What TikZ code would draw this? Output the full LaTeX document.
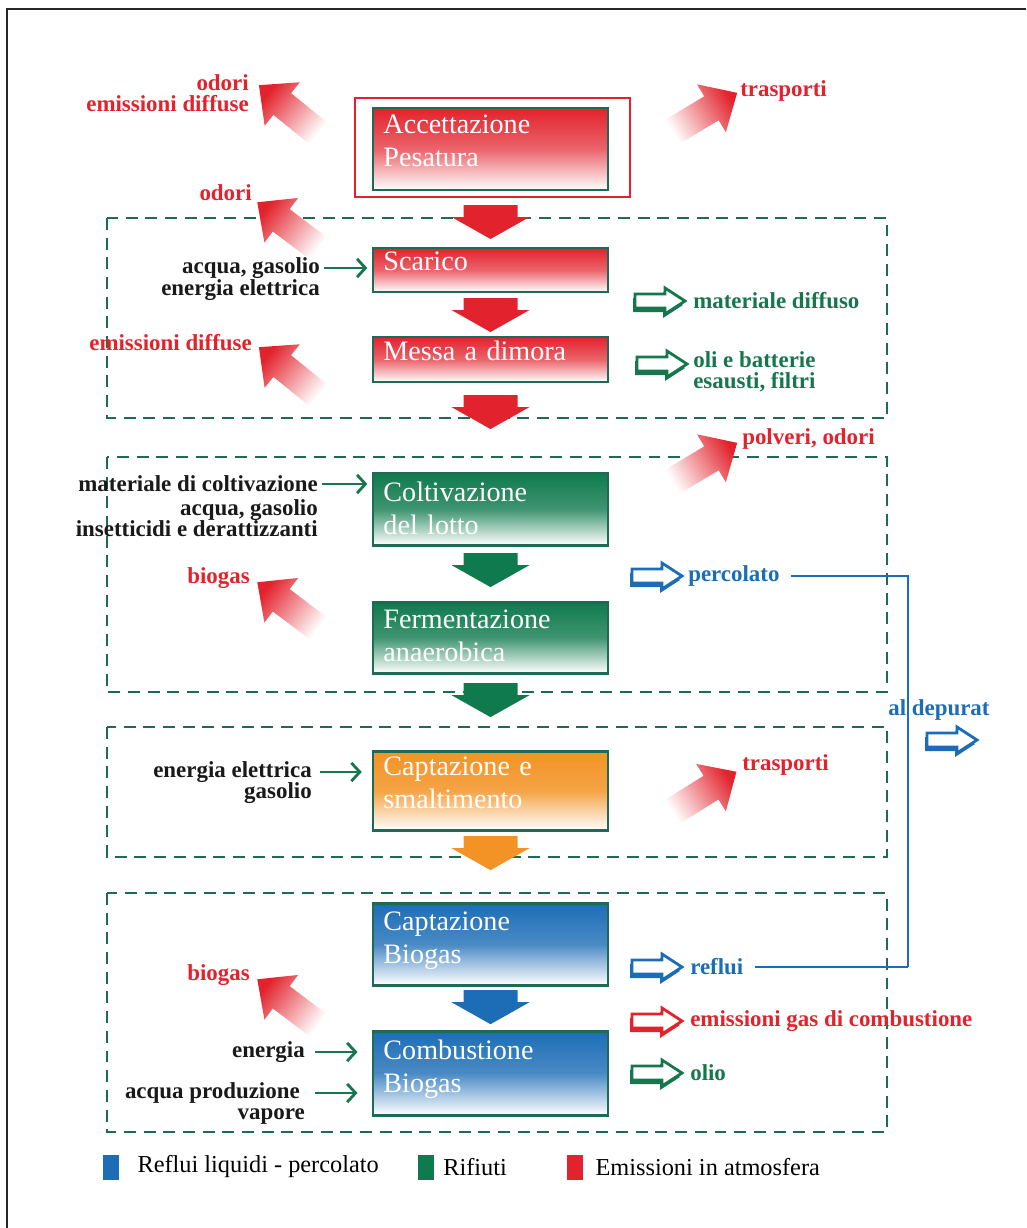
\documentclass[tikz,border=0pt]{standalone}
\usepackage{fontspec}
\setmainfont{Liberation Serif}
\usetikzlibrary{positioning,arrows.meta}
\definecolor{emred}{HTML}{E2222C}
\definecolor{wastegreen}{HTML}{0F7A4D}
\definecolor{liquidblue}{HTML}{1C6DB6}
\definecolor{gasorange}{HTML}{F39325}
\definecolor{zoneteal}{HTML}{1F6A56}
\definecolor{inkgreen}{HTML}{16774E}
\begin{document}
\begin{tikzpicture}[x=0.025cm,y=-0.025cm,
  stage/.style={draw=zoneteal,line width=2pt,minimum width=5.875cm,text width=5.35cm,
    inner xsep=0.25cm,inner ysep=0pt,outer sep=0pt,align=left,text=white,
    font=\fontsize{20}{23.5}\selectfont,text depth=#1},
  red stage/.style={stage=#1,top color=emred,bottom color=white,middle color=emred!70!white},
  green stage/.style={stage=#1,top color=wastegreen,bottom color=white,middle color=wastegreen!80!white},
  orange stage/.style={stage=#1,top color=gasorange,bottom color=white,middle color=gasorange!85!white},
  blue stage/.style={stage=#1,top color=liquidblue,bottom color=white,middle color=liquidblue!80!white},
  zone/.style={draw=zoneteal,line width=2pt,dash pattern=on 8.5pt off 5.5pt},
  tag/.style={font=\fontsize{16.3}{15}\selectfont\bfseries,inner sep=0pt},
  input/.style={tag,text=black!90,anchor=east,align=right},
  output/.style={tag,anchor=west,align=left},
  emission/.style={tag,text=emred},
  feed/.style={draw=inkgreen,line width=2pt,shorten <=3pt,shorten >=4pt,
    -{Straight Barb[length=6pt,width=13pt]}},
  drain/.style={draw=liquidblue,line width=1.4pt},
  key/.style={minimum width=0.4cm,minimum height=0.625cm,inner sep=0pt},
  key text/.style={font=\fontsize{17.3}{17}\selectfont,inner sep=0pt,anchor=west},
  pics/flow/.style={code={\fill[#1] (-27,0) -- (27,0) -- (27,12) -- (39,12) -- (0,34)
    -- (-39,12) -- (-27,12) -- cycle;}},
  pics/fume/.style={code={\shade[top color=emred,bottom color=white,shading angle=#1]
    (0,-14) -- (46,-14) -- (46,-28) -- (76,0) -- (46,28) -- (46,14) -- (0,14) -- cycle;}},
  pics/spill/.style={code={
    \fill[#1,shift={(-2,4)}] (-25,-7) -- (5,-7) -- (5,-13) -- (25,0) -- (5,13) -- (5,7) -- (-25,7) -- cycle;
    \filldraw[draw=#1,fill=white,line width=2pt] (-25,-7) -- (5,-7) -- (5,-13) -- (25,0) -- (5,13)
      -- (5,7) -- (-25,7) -- cycle;}}]

  \useasboundingbox (0,0) rectangle (1026,1228);
  \draw[line width=1.4pt,black!85] (7,1228) -- (7,9) -- (1026,9);

  \draw[zone] (107,218) rectangle (887,418);
  \draw[zone] (107,457) rectangle (887,692);
  \draw[zone] (107,727) rectangle (887,857);
  \draw[zone] (107,893) rectangle (887,1132);

  \node[red stage=35pt,minimum height=2.05cm] (acc) at (490.5,149) {Accettazione\\Pesatura};
  \node[red stage=13pt,minimum height=1.1cm,below=1.45cm of acc] (scar) {Scarico};
  \node[red stage=13pt,minimum height=1.125cm,below=1.125cm of scar] (mess) {Messa a dimora};
  \node[green stage=25pt,minimum height=1.8cm,below=2.275cm of mess] (colt) {Coltivazione\\del lotto};
  \node[green stage=25.8pt,minimum height=1.775cm,below=1.425cm of colt] (ferm) {Fermentazione\\anaerobica};
  \node[orange stage=34.3pt,minimum height=1.975cm,below=1.95cm of ferm] (capt) {Captazione e\\smaltimento};
  \node[blue stage=32.2pt,minimum height=2.05cm,below=1.825cm of capt] (capb) {Captazione\\Biogas};
  \node[blue stage=33.6pt,minimum height=2.1cm,below=1.15cm of capb] (comb) {Combustione\\Biogas};

  \draw[emred,line width=1.5pt] ([xshift=-0.45cm,yshift=0.25cm]acc.north west)
    rectangle ([xshift=0.55cm,yshift=-0.175cm]acc.south east);

  \pic at ([yshift=-0.375cm]acc.south) {flow=emred};
  \pic at ([yshift=-0.15cm]scar.south) {flow=emred};
  \pic at ([yshift=-0.325cm]mess.south) {flow=emred};
  \pic at ([yshift=-0.2cm]colt.south) {flow=wastegreen};
  \pic at ([yshift=-0.25cm]ferm.south) {flow=wastegreen};
  \pic at ([yshift=-0.15cm]capt.south) {flow=gasorange};
  \pic at ([yshift=-0.125cm]capb.south) {flow=liquidblue};

  \pic[rotate=141] at (318,133) {fume=51};
  \pic[rotate=31] at (672,132) {fume=-59};
  \pic[rotate=143] at (318,248) {fume=53};
  \pic[rotate=141] at (318,395) {fume=51};
  \pic[rotate=31] at (672,482) {fume=-59};
  \pic[rotate=143] at (318,628) {fume=53};
  \pic[rotate=32] at (672,812) {fume=-58};
  \pic[rotate=143] at (318,1025) {fume=53};

  \node[emission,anchor=east,align=right] (em1) at (249,93) {odori\\emissioni diffuse};
  \node[emission,anchor=west] (em2) at (740,91) {trasporti};
  \node[emission,anchor=east] (em3) at (252,193) {odori};
  \node[emission,anchor=east] (em4) at (252,343) {emissioni diffuse};
  \node[emission,anchor=west] (em5) at (742,439) {polveri, odori};
  \node[emission,anchor=east] (em6) at (250,578) {biogas};
  \node[emission,anchor=west] (em7) at (742,765) {trasporti};
  \node[emission,anchor=east] (em8) at (250,975) {biogas};

  \node[input] (in1a) at (320,268) {acqua, gasolio};
  \node[input] (in1b) at (320,290) {energia elettrica};
  \node[input] (in2a) at (318,484) {materiale di coltivazione};
  \node[input,anchor=north east] (in2b) at (318,499) {acqua, gasolio\\insetticidi e derattizzanti};
  \node[input] (in3a) at (312,772) {energia elettrica};
  \node[input] (in3b) at (312,793) {gasolio};
  \node[input] (in4) at (305,1052) {energia};
  \node[input] (in5a) at (300,1093) {acqua produzione};
  \node[input] (in5b) at (305,1116) {vapore};

  \draw[feed] (in1a) -- (scar.west |- in1a);
  \draw[feed] (in2a) -- (colt.west |- in2a);
  \draw[feed,shorten <=6pt,shorten >=8pt] (in3a) -- (capt.west |- in3a);
  \draw[feed,shorten <=7pt,shorten >=11pt] (in4) -- (comb.west |- in4);
  \draw[feed,shorten <=11pt,shorten >=11pt] (in5a) -- (comb.west |- in5a);

  \pic at (660,301) {spill=inkgreen};
  \pic at (662,364) {spill=inkgreen};
  \pic at (657,576) {spill=liquidblue};
  \pic at (952,740) {spill=liquidblue};
  \pic at (657,967) {spill=liquidblue};
  \pic at (657,1021) {spill=emred};
  \pic at (657,1073) {spill=inkgreen};

  \node[output,text=inkgreen] (diff) at (693,301) {materiale diffuso};
  \node[output,text=inkgreen] (oli) at (693,372) {oli e batterie\\esausti, filtri};
  \node[output,text=liquidblue] (perc) at (688,576) {percolato};
  \node[output,text=liquidblue] (dep) at (888,710) {al depurat};
  \node[output,text=liquidblue] (refl) at (690,967) {reflui};
  \node[output,text=emred] (gas) at (690,1021) {emissioni gas di combustione};
  \node[output,text=inkgreen] (olio) at (690,1073) {olio};

  \coordinate (bend) at (908,700);
  \draw[drain,shorten <=8pt] (perc.east) -- (perc.east -| bend) -- (refl.east -| bend);
  \draw[drain,shorten >=8pt] (refl.east -| bend) -- (refl.east);

  \node[key,fill=liquidblue] (k1) at (111,1167) {};
  \node[key text,right=0.45cm of k1.east,anchor=west] (t1) {Reflui liquidi - percolato};
  \node[key,fill=wastegreen] (k2) at (426,1167) {};
  \node[key text,right=0.22cm of k2.east,anchor=west] (t2) {Rifiuti};
  \node[key,fill=emred] (k3) at (575,1167) {};
  \node[key text,right=0.3cm of k3.east,anchor=west] (t3) {Emissioni in atmosfera};
\end{tikzpicture}
\end{document}
